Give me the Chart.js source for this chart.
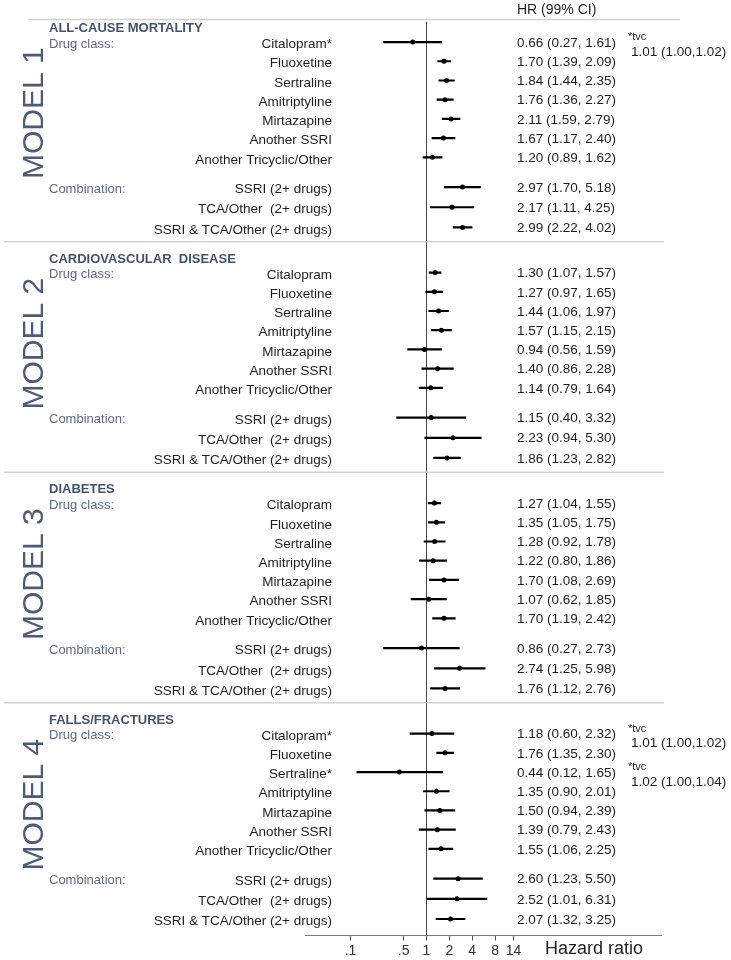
<!DOCTYPE html>
<html>
<head>
<meta charset="utf-8">
<title>Hazard ratios by antidepressant class</title>
<script src="https://cdn.jsdelivr.net/npm/chart.js@4.4.1/dist/chart.umd.min.js"></script>
<style>
    html, body { margin: 0; padding: 0; background: #ffffff; }
    #wrap { width: 731px; height: 960px; }
</style>
</head>
<body>
<div id="wrap"><canvas id="forest-chart" width="731" height="960"></canvas></div>
<script>
// Forest plot - HR (99% CI) per antidepressant, four outcome models

const models = ['MODEL 1', 'MODEL 2', 'MODEL 3', 'MODEL 4'];
const outcomes = ['ALL-CAUSE MORTALITY', 'CARDIOVASCULAR  DISEASE', 'DIABETES', 'FALLS/FRACTURES'];
const drugs = ['Citalopram', 'Fluoxetine', 'Sertraline', 'Amitriptyline', 'Mirtazapine',
    'Another SSRI', 'Another Tricyclic/Other',
    'SSRI (2+ drugs)', 'TCA/Other  (2+ drugs)', 'SSRI & TCA/Other (2+ drugs)'];
// rows marked with * (time varying coefficient), per model
const starred = [[0], [], [], [0, 2]];

// Model 1 - all-cause mortality
const hr1 = [0.66, 1.70, 1.84, 1.76, 2.11, 1.67, 1.20, 2.97, 2.17, 2.99];
const lo1 = [0.27, 1.39, 1.44, 1.36, 1.59, 1.17, 0.89, 1.70, 1.11, 2.22];
const hi1 = [1.61, 2.09, 2.35, 2.27, 2.79, 2.40, 1.62, 5.18, 4.25, 4.02];
// Model 2 - cardiovascular disease
const hr2 = [1.30, 1.27, 1.44, 1.57, 0.94, 1.40, 1.14, 1.15, 2.23, 1.86];
const lo2 = [1.07, 0.97, 1.06, 1.15, 0.56, 0.86, 0.79, 0.40, 0.94, 1.23];
const hi2 = [1.57, 1.65, 1.97, 2.15, 1.59, 2.28, 1.64, 3.32, 5.30, 2.82];
// Model 3 - diabetes
const hr3 = [1.27, 1.35, 1.28, 1.22, 1.70, 1.07, 1.70, 0.86, 2.74, 1.76];
const lo3 = [1.04, 1.05, 0.92, 0.80, 1.08, 0.62, 1.19, 0.27, 1.25, 1.12];
const hi3 = [1.55, 1.75, 1.78, 1.86, 2.69, 1.85, 2.42, 2.73, 5.98, 2.76];
// Model 4 - falls/fractures
const hr4 = [1.18, 1.76, 0.44, 1.35, 1.50, 1.39, 1.55, 2.60, 2.52, 2.07];
const lo4 = [0.60, 1.35, 0.12, 0.90, 0.94, 0.79, 1.06, 1.23, 1.01, 1.32];
const hi4 = [2.32, 2.30, 1.65, 2.01, 2.39, 2.43, 2.25, 5.50, 6.31, 3.25];

// tvc notes
const tvcModel = [0, 3, 3];
const tvcRow = [0, 0, 2];
const tvcText = ['1.01 (1.00,1.02)', '1.01 (1.00,1.02)', '1.02 (1.00,1.04)'];

const xTicks = [0.1, 0.5, 1, 2, 4, 8, 14];
const xTickLabels = ['.1', '.5', '1', '2', '4', '8', '14'];

const hrAll = [hr1, hr2, hr3, hr4];
const loAll = [lo1, lo2, lo3, lo4];
const hiAll = [hi1, hi2, hi3, hi4];

// row slots inside one model block (header sits above slot 1)
const ROW_SLOT = [1, 2, 3, 4, 5, 6, 7, 8.55, 9.6, 10.65];
const MODEL_STEP = 12;
function rowPos(m, r) { return m * MODEL_STEP + ROW_SLOT[r]; }

const FONT = "'Liberation Sans', Arial, sans-serif";
const TEXT_COLOR = '#1e1e1e';
const SLATE = '#43536f';
const SLATE_LIGHT = '#5c6b86';

Chart.defaults.font.family = FONT;

// build datasets
const pointData = [];
const ciData = [];
hrAll.forEach((hrs, m) => {
    hrs.forEach((hr, r) => {
        const y = rowPos(m, r);
        pointData.push({ x: hr, y: y });
        ciData.push({ x: loAll[m][r], y: y });
        ciData.push({ x: hiAll[m][r], y: y });
        ciData.push({ x: NaN, y: NaN });   // break the line
    });
});

function fmt(v) { return v.toFixed(2); }

function text(ctx, str, x, y, opts) {
    ctx.save();
    ctx.font = (opts.weight || 'normal') + ' ' + opts.size + 'px ' + FONT;
    ctx.fillStyle = opts.color || TEXT_COLOR;
    ctx.textAlign = opts.align || 'left';
    ctx.textBaseline = 'middle';
    ctx.fillText(str, x, y);
    ctx.restore();
}

function hline(ctx, x1, x2, y, color, width) {
    ctx.save();
    ctx.strokeStyle = color;
    ctx.lineWidth = width;
    ctx.beginPath();
    ctx.moveTo(x1, y);
    ctx.lineTo(x2, y);
    ctx.stroke();
    ctx.restore();
}

const forestText = {
    id: 'forestText',
    beforeDatasetsDraw(chart) {
        // reference line at HR = 1
        const { ctx, chartArea, scales: { x } } = chart;
        const px = Math.round(x.getPixelForValue(1)) + 0.5;
        ctx.save();
        ctx.strokeStyle = '#444444';
        ctx.lineWidth = 1;
        ctx.beginPath();
        ctx.moveTo(px, chartArea.top);
        ctx.lineTo(px, chartArea.bottom);
        ctx.stroke();
        ctx.restore();
    },
    afterDraw(chart) {
        const { ctx, scales: { y } } = chart;

        // separators
        hline(ctx, 28, 680, y.getPixelForValue(-0.18), '#d2d2d2', 1.5);
        for (let m = 1; m < models.length; m++) {
            hline(ctx, 4, 664, y.getPixelForValue(m * MODEL_STEP - 0.6), '#d2d2d2', 1.5);
        }

        text(ctx, 'HR (99% CI)', 517, 10, { size: 14 });

        models.forEach((name, m) => {
            // rotated model label
            ctx.save();
            ctx.translate(43, y.getPixelForValue(m * MODEL_STEP + 4.7));
            ctx.rotate(-Math.PI / 2);
            ctx.font = '30px ' + FONT;
            ctx.fillStyle = '#4b5b79';
            ctx.textAlign = 'center';
            ctx.textBaseline = 'alphabetic';
            ctx.fillText(name, 0, 0);
            ctx.restore();

            text(ctx, outcomes[m], 49, y.getPixelForValue(m * MODEL_STEP + 0.3),
                { size: 13, weight: 'bold', color: SLATE });
            text(ctx, 'Drug class:', 49, y.getPixelForValue(rowPos(m, 0)) + 2,
                { size: 13, color: SLATE_LIGHT });
            text(ctx, 'Combination:', 49, y.getPixelForValue(rowPos(m, 7)) + 2,
                { size: 13, color: SLATE_LIGHT });

            drugs.forEach((d, r) => {
                const py = y.getPixelForValue(rowPos(m, r));
                const lbl = d + (starred[m].includes(r) ? '*' : '');
                text(ctx, lbl, 332, py + 2.5, { size: 13.5, align: 'right' });
                const hrText = fmt(hrAll[m][r]) + ' (' + fmt(loAll[m][r]) + ', ' + fmt(hiAll[m][r]) + ')';
                text(ctx, hrText, 517, py + 1, { size: 13.5 });
            });
        });

        // tvc notes
        tvcText.forEach((t, i) => {
            const py = y.getPixelForValue(rowPos(tvcModel[i], tvcRow[i]));
            text(ctx, '*tvc', 628, py - 5, { size: 11 });
            text(ctx, t, 631, py + 10, { size: 13.5 });
        });

        text(ctx, 'Hazard ratio', 545, 949, { size: 18 });
    }
};

const forestChart = new Chart(document.getElementById('forest-chart'), {
    type: 'scatter',
    data: {
        datasets: [
            {
                label: 'HR',
                data: pointData,
                order: 0,
                pointRadius: 2.5,
                pointHoverRadius: 2.5,
                pointStyle: 'circle',
                backgroundColor: '#000000',
                borderWidth: 0
            },
            {
                label: '99% CI',
                data: ciData,
                order: 1,
                showLine: true,
                spanGaps: false,
                pointRadius: 0,
                borderColor: '#000000',
                borderWidth: 2.2
            }
        ]
    },
    options: {
        responsive: false,
        animation: false,
        devicePixelRatio: 1,
        layout: {
            padding: { left: 305, right: 70, top: 21.7, bottom: 0 }
        },
        scales: {
            x: {
                type: 'logarithmic',
                min: 0.0252,
                max: 1218,
                afterBuildTicks: (scale) => {
                    scale.ticks = xTicks.map(v => ({ value: v }));
                },
                afterFit: (scale) => { scale.height = 24.5; },
                ticks: {
                    autoSkip: false,
                    maxRotation: 0,
                    padding: 2,
                    color: '#333333',
                    font: { size: 14 },
                    callback: (value, index) => xTickLabels[index]
                },
                grid: {
                    drawOnChartArea: false,
                    drawTicks: true,
                    tickLength: 5,
                    color: '#555555'
                },
                border: { color: '#7a7a7a', width: 1 }
            },
            y: {
                type: 'linear',
                display: false,
                reverse: true,
                min: -0.06,
                max: 47.51
            }
        },
        plugins: {
            legend: { display: false },
            tooltip: { enabled: false }
        }
    },
    plugins: [forestText]
});
</script>
</body>
</html>
